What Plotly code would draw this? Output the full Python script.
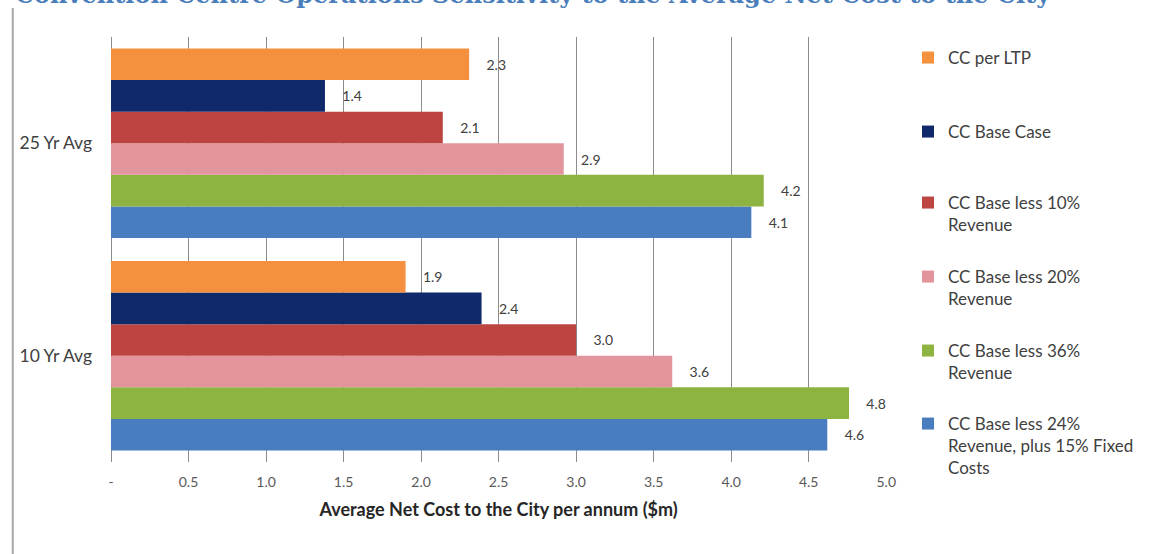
import plotly.graph_objects as go

# ---------------- data ----------------
categories = ["25 Yr Avg", "10 Yr Avg"]
series_names = [
    "CC per LTP",
    "CC Base Case",
    "CC Base less 10%<br>Revenue",
    "CC Base less 20%<br>Revenue",
    "CC Base less 36%<br>Revenue",
    "CC Base less 24%<br>Revenue, plus 15% Fixed<br>Costs",
]
cc_per_ltp = [2.31, 1.90]
cc_base_case = [1.38, 2.39]
cc_less_10 = [2.14, 3.00]
cc_less_20 = [2.92, 3.62]
cc_less_36 = [4.21, 4.76]
cc_less_24_fixed = [4.13, 4.62]
x_tickvals = [0, 0.5, 1.0, 1.5, 2.0, 2.5, 3.0, 3.5, 4.0, 4.5, 5.0]
x_ticktext = ["-", "0.5", "1.0", "1.5", "2.0", "2.5", "3.0", "3.5", "4.0", "4.5", "5.0"]
title_text = "Convention Centre Operations Sensitivity to the Average Net Cost to the City"
x_title = "Average Net Cost to the City per annum ($m)"

series_values = [cc_per_ltp, cc_base_case, cc_less_10, cc_less_20, cc_less_36, cc_less_24_fixed]

# ---------------- style ----------------
colors = ["#F5913E", "#10296B", "#BC4542", "#E3959D", "#8DB340", "#4A7DC0"]
legend_tops = [40, 114, 185, 259, 333, 406]  # pixel tops of each legend block
W, H = 1149, 554
FONT = "Lato"

fig = go.Figure()
# draw bottom-to-top within a group: last series first
for i in reversed(range(len(series_names))):
    lg = "legend" if i == 0 else f"legend{i+1}"
    fig.add_trace(go.Bar(
        y=categories,
        x=series_values[i],
        name=series_names[i],
        orientation="h",
        marker=dict(color=colors[i], line=dict(width=0)),
        text=series_values[i],
        texttemplate="\u00a0\u00a0\u00a0\u00a0%{x:.1f}",
        textposition="outside",
        textfont=dict(family=FONT, size=14, color="#404040"),
        cliponaxis=False,
        legend=lg,
    ))

layout_legends = {}
for i in range(len(series_names)):
    key = "legend" if i == 0 else f"legend{i+1}"
    layout_legends[key] = dict(
        x=908 / W, xref="container", xanchor="left",
        y=1 - legend_tops[i] / H, yref="container", yanchor="top",
        valign="top",
        bgcolor="rgba(0,0,0,0)",
        font=dict(family=FONT, size=17, color="#404040"),
        itemwidth=30,
    )

fig.update_layout(
    width=W, height=H, autosize=False,
    margin=dict(l=111, r=W - 892, t=37, b=92),
    paper_bgcolor="white", plot_bgcolor="white",
    barmode="group", bargap=0.108, bargroupgap=0,
    showlegend=True,
    uniformtext=dict(mode=False),
    **layout_legends,
)

fig.update_xaxes(
    range=[0, 5], tickvals=x_tickvals, ticktext=x_ticktext,
    showgrid=True, gridcolor="#8C8C8C", gridwidth=1,
    zeroline=True, zerolinecolor="#8C8C8C", zerolinewidth=1,
    showline=False, ticks="", ticklabelstandoff=10,
    tickfont=dict(family=FONT, size=14, color="#595959"),
    title=dict(text="<b>" + x_title + "</b>", standoff=14,
               font=dict(family=FONT, size=18, color="#262626")),
)
fig.update_yaxes(
    categoryorder="array", categoryarray=list(reversed(categories)),
    showgrid=False, zeroline=False, showline=False, ticks="",
    ticklabelstandoff=18,
    tickfont=dict(family=FONT, size=17.5, color="#404040"),
)

# title (cropped at top of image) and left frame line
fig.add_annotation(
    text="<b>" + title_text + "</b>", xref="paper", yref="paper",
    x=-99 / 781, y=1, xanchor="left", yanchor="bottom", yshift=26,
    showarrow=False, font=dict(family="DejaVu Serif", size=24, color="#4A7EBB"),
)
fig.add_shape(type="line", xref="paper", yref="paper",
              x0=-99 / 781, x1=-99 / 781, y0=-92 / 425, y1=1 + 29 / 425,
              line=dict(color="#A6A6A6", width=2))

fig.write_html("out.html")
